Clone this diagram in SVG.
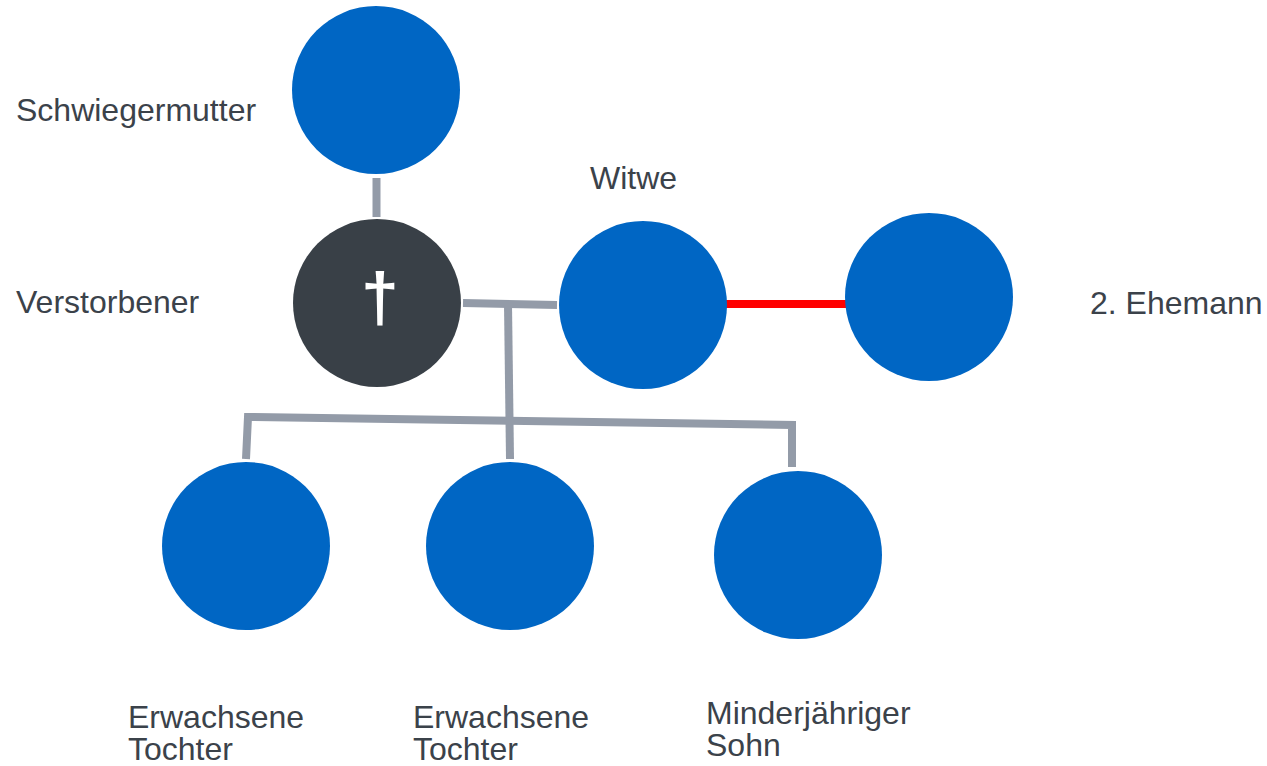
<svg xmlns="http://www.w3.org/2000/svg" width="1267" height="766" viewBox="0 0 1267 766">
<style>
.p{fill:#0066C4}
.d{fill:#394047}
.lbl{font-family:"Liberation Sans",Arial,sans-serif;font-size:32px;fill:#3B424A}
.c{stroke:#939BA8;stroke-width:8;fill:none}
.r{stroke:#FF0000;stroke-width:8;fill:none}
</style>
<rect width="1267" height="766" fill="#FFFFFF"/>
<g id="connectors">
<line class="c" x1="376.5" y1="178" x2="376.5" y2="217"/>
<line class="c" x1="463" y1="303" x2="557" y2="305"/>
<line class="c" x1="508" y1="304" x2="510" y2="459"/>
<polyline class="c" points="246,459 248,417 792,425 792,467"/>
<line class="r" x1="724" y1="304" x2="854" y2="304"/>
</g>
<g id="schwiegermutter"><circle class="p" cx="376" cy="90" r="84"/><text class="lbl" x="16" y="121">Schwiegermutter</text></g>
<g id="verstorbener"><circle class="d" cx="377" cy="303" r="84"/><text x="380" y="321" text-anchor="middle" font-family="Liberation Sans,Arial,sans-serif" font-weight="bold" font-size="68" fill="#FFFFFF">†</text><text class="lbl" x="16" y="313">Verstorbener</text></g>
<g id="witwe"><circle class="p" cx="643" cy="305" r="84"/><text class="lbl" x="590" y="189">Witwe</text></g>
<g id="ehemann2"><circle class="p" cx="929" cy="297" r="84"/><text class="lbl" x="1090" y="314">2. Ehemann</text></g>
<g id="tochter1"><circle class="p" cx="246" cy="546" r="84"/><text class="lbl" x="128" y="728">Erwachsene</text><text class="lbl" x="128" y="760">Tochter</text></g>
<g id="tochter2"><circle class="p" cx="510" cy="546" r="84"/><text class="lbl" x="413" y="728">Erwachsene</text><text class="lbl" x="413" y="760">Tochter</text></g>
<g id="sohn"><circle class="p" cx="798" cy="555" r="84"/><text class="lbl" x="706" y="724">Minderjähriger</text><text class="lbl" x="706" y="756">Sohn</text></g>
</svg>
